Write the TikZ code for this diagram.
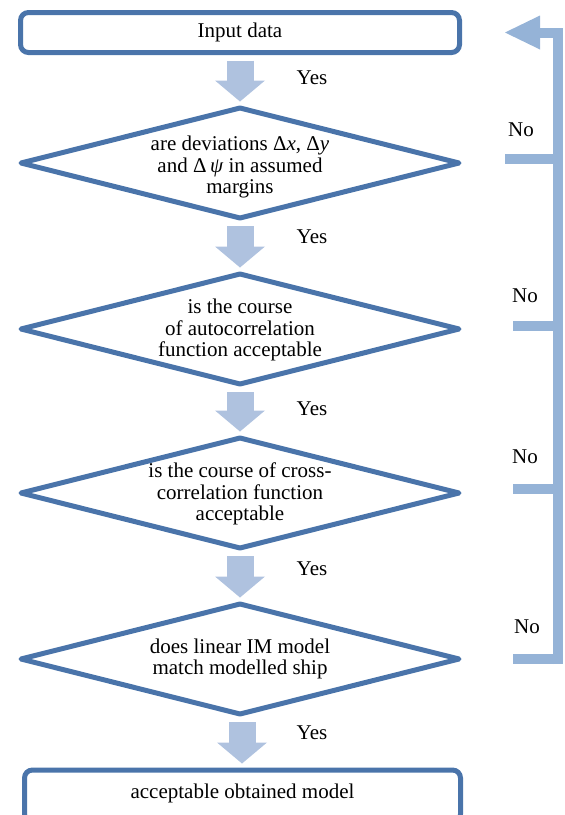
\documentclass[tikz,border=0pt]{standalone}
\usepackage{fontspec}
\setmainfont{Liberation Serif}
\usetikzlibrary{positioning, shapes.geometric, arrows.meta}

\definecolor{boxblue}{HTML}{4A74AA}
\definecolor{yesblue}{HTML}{AFC2DF}
\definecolor{noblue}{HTML}{95B3D7}

\tikzset{
  procbox/.style={draw=boxblue, line width=5pt, rounded corners=8pt, minimum height=40pt, inner sep=0pt, outer sep=0pt, font=\fontsize{21}{21.5}\selectfont},
  decision/.style={diamond, draw=boxblue, line width=5pt, line join=round, minimum width=438pt, minimum height=110pt, inner sep=0pt, outer sep=0pt},
  question/.style={align=center, inner sep=0pt, font=\fontsize{21}{21.5}\selectfont},
  answer/.style={inner sep=0pt, font=\fontsize{21}{21.5}\selectfont},
  yesarrow/.style={draw=yesblue, line width=27pt, -{Triangle[width=50pt, length=21pt, line width=0pt]}, shorten <=8pt, shorten >=6.5pt},
  noline/.style={draw=noblue, line width=10pt}
}

\begin{document}
\begin{tikzpicture}[x=1pt, y=-1pt]
    \useasboundingbox (0,0) rectangle (565,815);
    \clip (0,0) rectangle (565,815);

    % Boxes and decisions
    \node[procbox, minimum width=439pt] (in) at (240,32.5) {Input data};
    \node[decision] (d1) at (240,163) {};
    \node[decision] (d2) at (240,329) {};
    \node[decision] (d3) at (240,493) {};
    \node[decision] (d4) at (240,659) {};
    \node[procbox, minimum width=436pt, minimum height=52pt, text height=14pt, text depth=10pt] (out) at (242.5,796) {acceptable obtained model};

    % Questions inside the diamonds
    \node[question] (q1) at (240,167) {are deviations Δ\textit{x}, Δ\textit{y}\\and Δ\,\textit{ψ} in assumed\\margins};
    \node[question] (q2) at (240,330) {is the course\\of autocorrelation\\function acceptable};
    \node[question] (q3) at (240,494) {is the course of cross-\\correlation function\\acceptable};
    \node[question] (q4) at (240,659) {does linear IM model\\match modelled ship};

    % Yes arrows
    \draw[yesarrow] (in.south) -- (d1.north);
    \draw[yesarrow] (d1.south) -- (d2.north);
    \draw[yesarrow] (d2.south) -- (d3.north);
    \draw[yesarrow] (d3.south) -- (d4.north);
    \draw[yesarrow] ([xshift=2pt]d4.south) -- ([xshift=2pt]d4.south |- out.north);

    \foreach \i/\y in {1/78, 2/237, 3/409, 4/569, 5/733} {
      \node[answer] (yes\i) at (312,\y) {Yes};
    }

    % No line back to the input
    \coordinate (corner) at (557.5,32.5);
    \coordinate (bottom) at (557.5,664);
    \draw[noline, -{Triangle[width=34pt, length=35pt, line width=0pt]}] (bottom) -- (corner) -- ([xshift=45.5pt]in.east);

    \foreach \i/\x/\y in {1/505/159, 2/513/326, 3/513/489, 4/513/659} {
      \coordinate (s\i) at (\x,\y);
      \draw[noline] (s\i) -- (s\i -| corner);
    }

    \foreach \i/\x/\y in {1/521/130, 2/525/296, 3/525/457, 4/527/627} {
      \node[answer] (no\i) at (\x,\y) {No};
    }
\end{tikzpicture}
\end{document}
